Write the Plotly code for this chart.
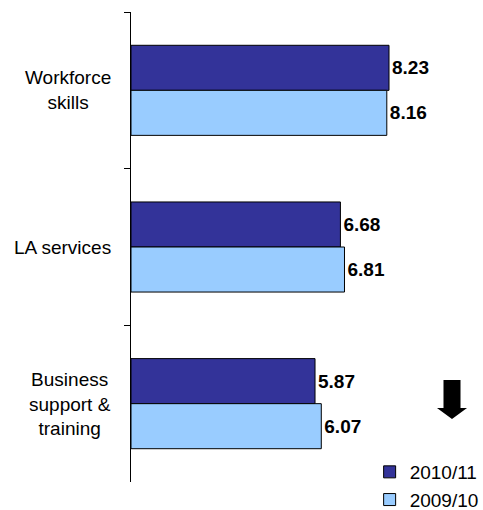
import plotly.graph_objects as go

# Survey scores by factor, two years
categories = ["Workforce<br>skills", "LA services", "Business<br>support &<br>training"]
years = ["2010/11", "2009/10"]
scores_2010_11 = [8.23, 6.68, 5.87]
scores_2009_10 = [8.16, 6.81, 6.07]
series_colors = ["#333399", "#99CCFF"]

W, H = 483, 510
ML, MR, MT, MB = 131, 38, 12, 28
PW, PH = W - ML - MR, H - MT - MB
FONT = "Arial, Liberation Sans, sans-serif"


def px_to_paper(px, py):
    return (px - ML) / PW, (H - MB - py) / PH


fig = go.Figure()
for name, vals, col in zip(years, [scores_2010_11, scores_2009_10], series_colors):
    fig.add_trace(go.Bar(
        y=categories, x=vals, name=name, orientation="h",
        marker=dict(color=col, line=dict(color="black", width=1)),
        texttemplate="%{x:.2f}", textposition="outside",
        textfont=dict(family=FONT, size=19, color="black", weight="bold"),
        cliponaxis=False,
    ))

# category labels: right-anchored blocks with centred lines
for cat in categories:
    fig.add_annotation(
        x=0, xref="x", y=cat, yref="y", text=cat, showarrow=False,
        xanchor="right", align="center", xshift=-18,
        font=dict(family=FONT, size=19, color="black"),
    )

# downward arrow marker beside the lowest group
cx, shaft_hw, head_hw = 452, 8.5, 15
top, neck, tip = 380, 408, 419
pts = [(cx - shaft_hw, top), (cx + shaft_hw, top), (cx + shaft_hw, neck),
       (cx + head_hw, neck), (cx, tip), (cx - head_hw, neck), (cx - shaft_hw, neck)]
path = "M " + " L ".join(f"{x:.4f},{y:.4f}" for x, y in (px_to_paper(*p) for p in pts)) + " Z"
fig.add_shape(type="path", path=path, xref="paper", yref="paper",
              fillcolor="black", line=dict(color="black", width=0))

fig.update_layout(
    width=W, height=H,
    margin=dict(l=ML, r=MR, t=MT, b=MB, pad=0, autoexpand=False),
    paper_bgcolor="white", plot_bgcolor="white",
    barmode="group", bargap=0.425, bargroupgap=0,
    showlegend=True,
    legend=dict(x=0.76, y=0.0617, xanchor="left", yanchor="top",
                font=dict(family=FONT, size=19, color="black"),
                bgcolor="rgba(0,0,0,0)", borderwidth=0, itemwidth=30,
                traceorder="normal"),
    xaxis=dict(range=[0, 10.016], visible=False, fixedrange=True),
    yaxis=dict(autorange="reversed", showticklabels=False, showgrid=False,
               showline=True, linecolor="black", linewidth=1,
               ticks="outside", tickson="boundaries", ticklen=6,
               tickcolor="black", tickwidth=1, zeroline=False),
)

fig.write_html("out.html")
